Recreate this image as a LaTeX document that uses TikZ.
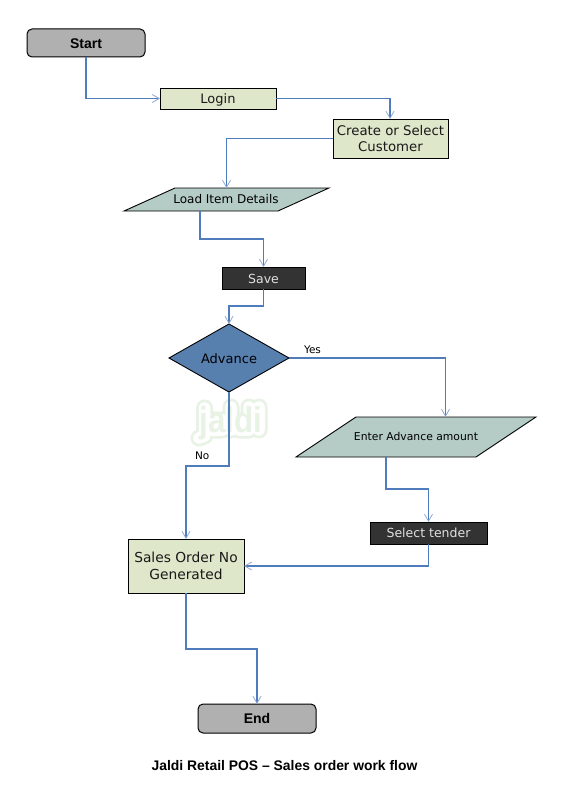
\documentclass[tikz,border=0pt]{standalone}
\usepackage{fontspec}
\usetikzlibrary{arrows.meta,shapes.geometric,calc}
\setmainfont{DejaVu Sans}
\newfontfamily\arialish{Liberation Sans}
\definecolor{conn}{HTML}{4F7CBC}
\definecolor{tip}{HTML}{8FAAD6}
\definecolor{termfill}{HTML}{B0B0B0}
\definecolor{procfill}{HTML}{DEE7CA}
\definecolor{iofill}{HTML}{B5CBC5}
\definecolor{darkfill}{HTML}{333333}
\definecolor{decfill}{HTML}{5880AF}
\definecolor{wmgreen}{HTML}{E8F2E5}
\tikzset{
  x=1pt,y=-1pt,
  every node/.style={inner sep=0pt,outer sep=0pt},
  oneline/.style={text height=11pt,text depth=0pt},
  term/.style={oneline,draw=black,line width=1pt,fill=termfill,rounded corners=5pt,minimum width=118pt,font=\arialish\bfseries\fontsize{14}{16}\selectfont},
  proc/.style={draw=black,line width=1pt,fill=procfill,align=center,text=black!90},
  dark/.style={oneline,draw=black,line width=.8pt,fill=darkfill,text=white!88!black,font=\fontsize{12.5}{15}\selectfont},
  iobox/.style={draw=black,line width=.9pt,fill=iofill,trapezium},
  conn/.style={draw=conn,line width=1.1pt,-{Straight Barb[length=7pt,width=8pt,color=tip,line width=.8pt]}},
  lbl/.style={font=\fontsize{10.5}{12}\selectfont,text=black},
  wmark/.style={anchor=base,xscale=.87,transform shape,text=wmgreen,font=\arialish\bfseries\fontsize{36}{36}\selectfont},
  wmskel/.pic={
    \draw[line cap=round,line join=round,pic actions]
      (204.6,408) -- (204.6,436) -- (199,438)
      (212,420) -- (222,420) -- (222,430) -- (212,430) -- cycle
      (231,407) -- (231,430)
      (239,421) -- (249,421) -- (249,407) (249,430) -- (239,430) -- (239,421)
      (259,407) -- (259,430);
  },
}
\begin{document}
\begin{tikzpicture}
\useasboundingbox (0,0) rectangle (576,800);
\fill[white] (0,0) rectangle (576,800);
% watermark: pale rounded outline, white ring, pale letters
\pic[draw=wmgreen,line width=17pt] {wmskel};
\pic[draw=white,line width=11.5pt] {wmskel};
\node[wmark] (wm) at (231,432) {jaldi};
% nodes
\node[term,minimum height=28pt] (start) at (86,43) {Start};
\node[proc,text height=10.5pt,text depth=1.5pt,minimum width=116pt,minimum height=21pt,font=\fontsize{13}{15}\selectfont] (login) at (218,98.5) {Login};
\node[proc,minimum width=115pt,minimum height=39pt,font=\fontsize{13.3}{16}\selectfont] (cust) at (390.5,138.5) {Create or Select\\Customer};
\node[iobox,inner ysep=5.5pt,text height=10pt,text depth=2pt,trapezium left angle=24.3,trapezium right angle=155.7,font=\fontsize{12}{14}\selectfont] (load) at (226.5,199.5) {\makebox[103pt][c]{\hspace*{-1pt}Load Item Details}};
\node[dark,minimum width=83pt,minimum height=22pt] (save) at (263.5,278) {Save};
\node[diamond,aspect=1.76,draw=black,line width=.9pt,fill=decfill,oneline,minimum width=120pt,minimum height=68pt,font=\fontsize{13}{15}\selectfont] (adv) at (229,358) {Advance};
\node[iobox,inner ysep=14pt,text height=9.5pt,text depth=2.5pt,trapezium left angle=33.7,trapezium right angle=146.3,font=\fontsize{10.8}{13}\selectfont] (amt) at (416,437) {\makebox[120pt][c]{Enter Advance amount}};
\node[dark,minimum width=117pt,minimum height=22pt,text height=10.5pt,text depth=1.5pt] (tender) at (428.5,533) {Select tender};
\node[proc,minimum width=116pt,minimum height=54pt,font=\fontsize{13.8}{17}\selectfont] (so) at (186,566) {Sales Order No\\Generated};
\node[term,minimum height=29pt,text height=10.5pt,text depth=1.5pt] (end) at (257,718.5) {End};
\node[font=\arialish\bfseries\fontsize{13.9}{16}\selectfont] (title) at (284.5,765.5) {Jaldi Retail POS – Sales order work flow};
\node[lbl,anchor=west] (yes) at (304,350) {Yes};
\node[lbl,anchor=west] (no) at (195,456) {No};
% bend points
\coordinate (loadout) at ([xshift=-26.5pt]load.south);
\coordinate (amtout) at ([xshift=-30pt]amt.south);
\coordinate (amtin) at ([xshift=29.5pt]amt.north);
\coordinate (custin) at ([xshift=-.5pt]cust.north);
\coordinate (b1) at (230,239);
\coordinate (b2) at (245,306);
\coordinate (b3) at (205,466);
\coordinate (b4) at (405,489);
\coordinate (b5) at (220,649);
% connectors
\draw[conn] (start.south) |- (login.west);
\draw[conn] (login.east) -| (custin);
\draw[conn] (cust.west) -| (load.north);
\draw[conn] (loadout) |- (b1) -| (save.north);
\draw[conn] (save.south) |- (b2) -| (adv.north);
\draw[conn] (adv.east) -| (amtin);
\draw[conn] (adv.south) |- (b3) -| (so.north);
\draw[conn] (amtout) |- (b4) -| (tender.north);
\draw[conn] (tender.south) |- (so.east);
\draw[conn] (so.south) |- (b5) -| (end.north);
\end{tikzpicture}
\end{document}
